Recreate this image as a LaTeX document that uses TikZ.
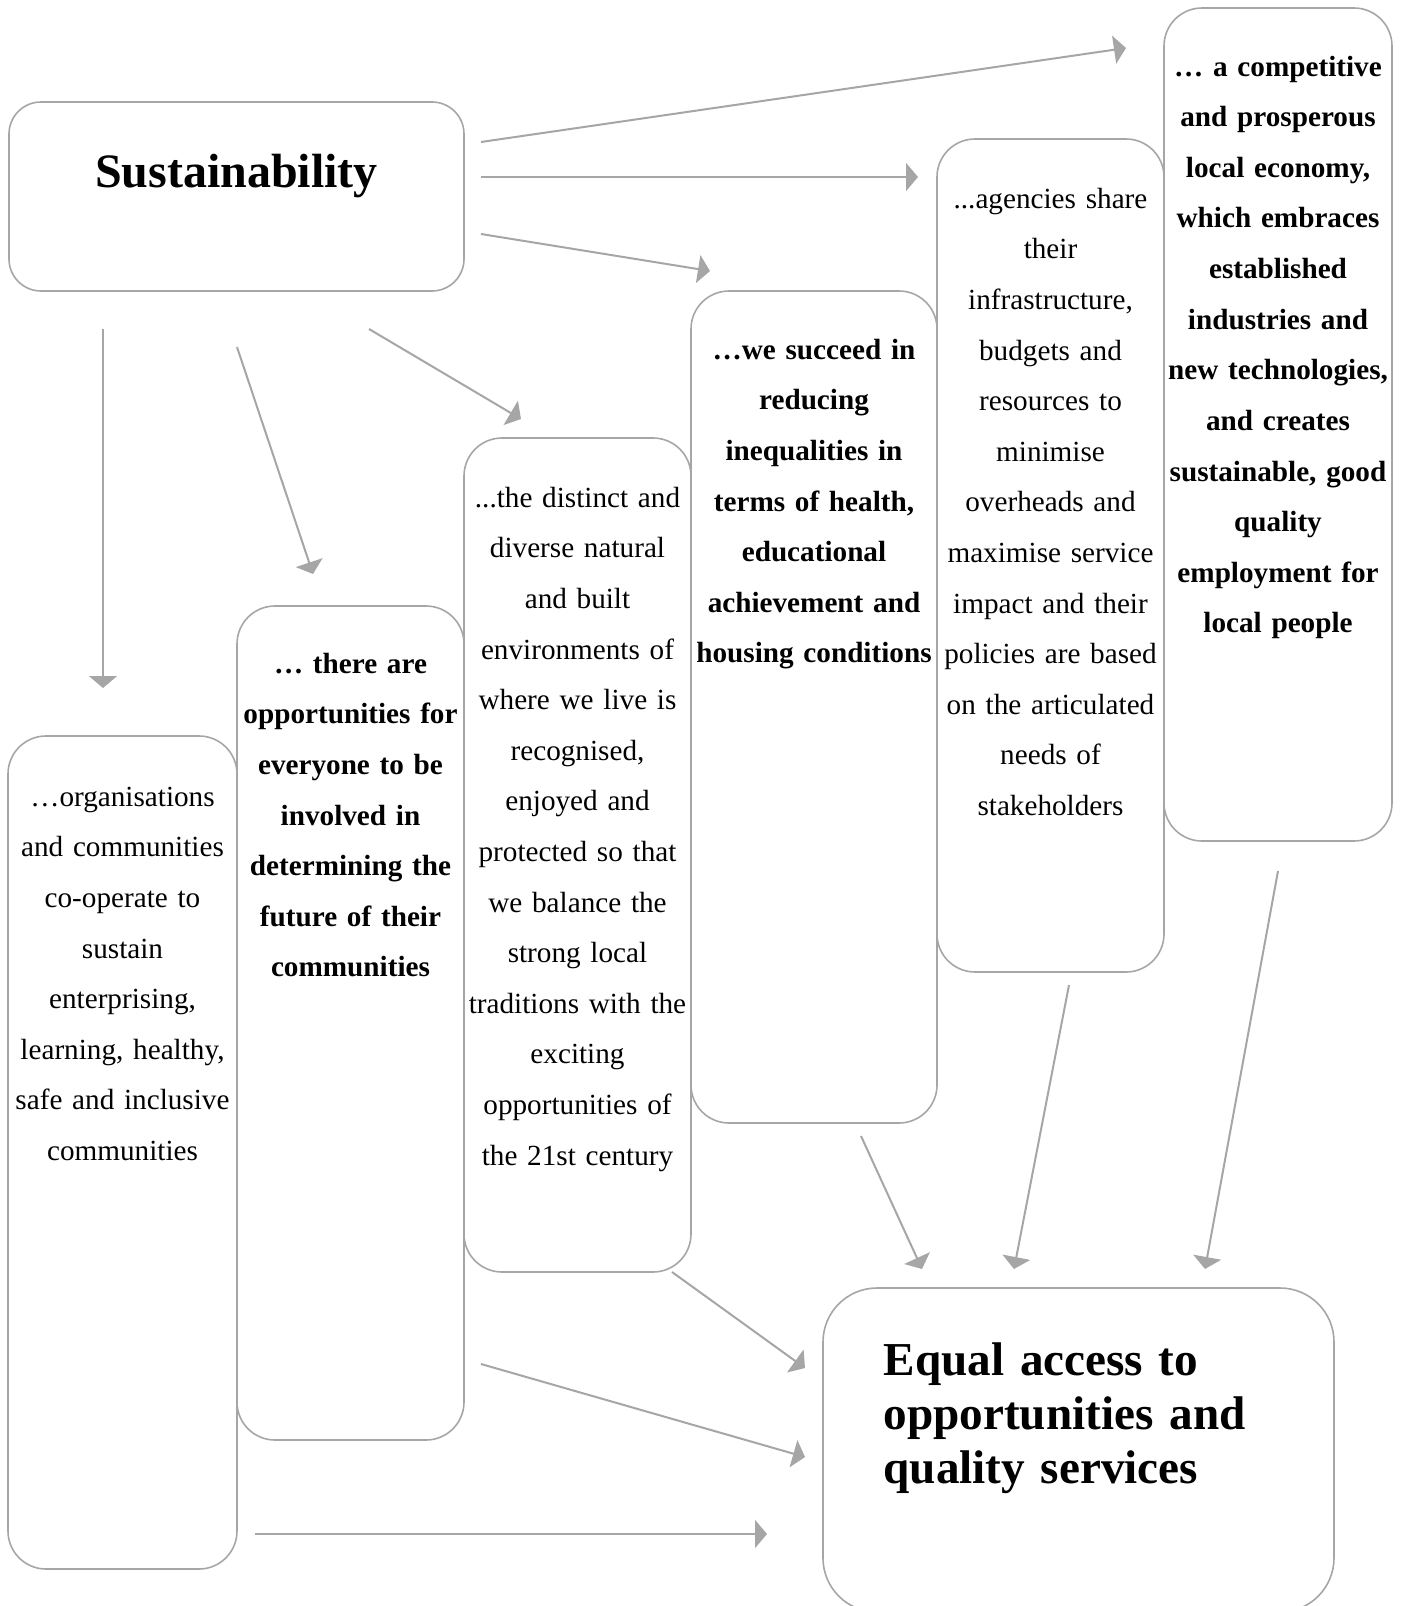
\documentclass[tikz,border=0pt]{standalone}
\usepackage{fontspec}
\setmainfont{Liberation Serif}
\usetikzlibrary{arrows.meta, positioning}
\definecolor{linegray}{HTML}{A6A6A6}
\newcommand{\bodyfont}{\fontsize{14.6}{25.3}\selectfont}
\newcommand{\headfont}{\fontsize{24}{27}\selectfont\bfseries}

\tikzset{
  panel/.style={draw=linegray, line width=0.8pt, rounded corners=19pt, inner sep=0pt},
  flow/.style={draw=linegray, line width=1pt, -{Triangle[length=6pt, width=14pt]}},
  plaintext/.style={text width=125pt, align=center, inner sep=0pt, anchor=base, font=\bodyfont},
  boldtext/.style={plaintext, font=\bodyfont\bfseries},
}

\begin{document}
\begin{tikzpicture}[x=0.5pt, y=-0.5pt]
    \useasboundingbox (0,0) rectangle (1404,1606);

    % Boxes
    \node[panel, rounded corners=16pt, minimum width=227.5pt, minimum height=94.5pt] (sus) at (236.5,196.5) {};
    \node[panel, minimum width=114.5pt, minimum height=416.5pt] (org) at (122.5,1152.5) {};
    \node[panel, minimum width=113.5pt, minimum height=417pt] (opp) at (350.5,1023) {};
    \node[panel, minimum width=113.5pt, minimum height=417pt] (env) at (577.5,855) {};
    \node[panel, minimum width=123pt, minimum height=416pt] (ineq) at (814,707) {};
    \node[panel, minimum width=113.5pt, minimum height=416.5pt] (agen) at (1050.5,555.5) {};
    \node[panel, minimum width=114pt, minimum height=416.5pt] (econ) at (1278,424.5) {};
    \node[panel, rounded corners=27pt, minimum width=255.5pt, minimum height=162pt] (equal) at (1078.5,1450) {};

    % Texts
    \node[anchor=base, inner sep=0pt, font=\headfont] (sustxt) at ([yshift=-43pt]sus.north) {Sustainability};
    \node[plaintext] (orgtxt) at ([yshift=-35.5pt]org.north)
        {…organisations\\ and communities\\ co-operate to\\ sustain\\ enterprising,\\ learning, healthy,\\ safe and inclusive\\ communities};
    \node[boldtext] (opptxt) at ([yshift=-34pt]opp.north)
        {… there are\\ opportunities for\\ everyone to be\\ involved in\\ determining the\\ future of their\\ communities};
    \node[plaintext] (envtxt) at ([yshift=-35pt]env.north)
        {...the distinct and\\ diverse natural\\ and built\\ environments of\\ where we live is\\ recognised,\\ enjoyed and\\ protected so that\\ we balance the\\ strong local\\ traditions with the\\ exciting\\ opportunities of\\ the 21st century};
    \node[boldtext] (ineqtxt) at ([yshift=-34.5pt]ineq.north)
        {…we succeed in\\ reducing\\ inequalities in\\ terms of health,\\ educational\\ achievement and\\ housing conditions};
    \node[plaintext] (agentxt) at ([yshift=-35pt]agen.north)
        {...agencies share\\ their\\ infrastructure,\\ budgets and\\ resources to\\ minimise\\ overheads and\\ maximise service\\ impact and their\\ policies are based\\ on the articulated\\ needs of\\ stakeholders};
    \node[boldtext] (econtxt) at ([yshift=-34.5pt]econ.north)
        {… a competitive\\ and prosperous\\ local economy,\\ which embraces\\ established\\ industries and\\ new technologies,\\ and creates\\ sustainable, good\\ quality\\ employment for\\ local people};
    \node[anchor=base west, inner sep=0pt, text width=240pt, align=left, font=\fontsize{23.6}{27}\selectfont\bfseries] (equaltxt)
        at ([xshift=30.5pt, yshift=-44pt]equal.north west)
        {Equal access to\\ opportunities and\\ quality services};

    % Arrow ends
    \coordinate (s1) at (481,142);   \coordinate (e1) at (1126,48);
    \coordinate (s2) at (481,177);   \coordinate (e2) at (918,177);
    \coordinate (s3) at (481,234);   \coordinate (e3) at (710,271);
    \coordinate (s4) at (369,329);   \coordinate (e4) at (521,419);
    \coordinate (s5) at (237,347);   \coordinate (e5) at (313,574);
    \coordinate (s6) at (103,329);   \coordinate (e6) at (103,688);
    \coordinate (t1) at (861,1136);  \coordinate (f1) at (922,1269);
    \coordinate (t2) at (1069,985);  \coordinate (f2) at (1014,1269);
    \coordinate (t3) at (1278,871);  \coordinate (f3) at (1205,1269);
    \coordinate (t4) at (672,1272);  \coordinate (f4) at (805,1368);
    \coordinate (t5) at (481,1364);  \coordinate (f5) at (805,1457);
    \coordinate (t6) at (255,1534);  \coordinate (f6) at (767,1534);

    % Arrows out of Sustainability
    \draw[flow] (s1) -- (e1);
    \draw[flow] (s2) -- (e2);
    \draw[flow] (s3) -- (e3);
    \draw[flow] (s4) -- (e4);
    \draw[flow] (s5) -- (e5);
    \draw[flow] (s6) -- (e6);

    % Arrows into Equal access
    \draw[flow] (t1) -- (f1);
    \draw[flow] (t2) -- (f2);
    \draw[flow] (t3) -- (f3);
    \draw[flow] (t4) -- (f4);
    \draw[flow] (t5) -- (f5);
    \draw[flow] (t6) -- (f6);
\end{tikzpicture}
\end{document}
